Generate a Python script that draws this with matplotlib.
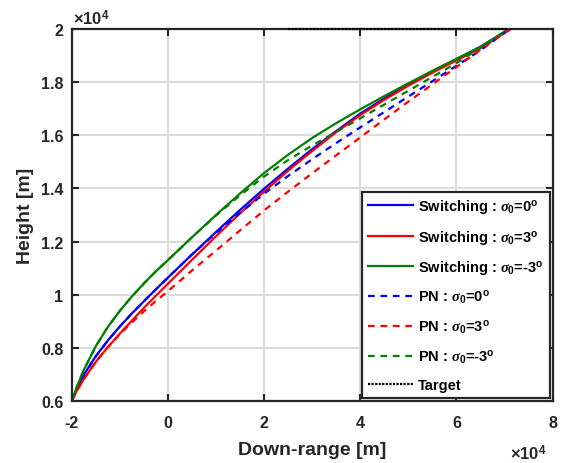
import matplotlib
matplotlib.use("Agg")
import matplotlib.pyplot as plt
from matplotlib.ticker import FuncFormatter

plt.rcParams['font.family'] = ['Liberation Sans', 'DejaVu Sans']
plt.rcParams['font.weight'] = 'bold'
plt.rcParams['mathtext.fontset'] = 'custom'
plt.rcParams['mathtext.rm'] = 'Liberation Sans:bold'
plt.rcParams['mathtext.bf'] = 'Liberation Sans:bold'
plt.rcParams['mathtext.it'] = 'Liberation Serif:italic'

SCALE = 1e4

# trajectories, down-range / height in units of 1e4 m
xs = [-2, -1.9, -1.75, -1.5, -1.25, -1, -0.75, -0.5, -0.25, 0, 0.5, 1, 1.5, 2, 2.5, 3, 3.5,
      4, 4.5, 5, 5.5, 6, 6.5]

sw0_x = xs + [7.1]
sw0_y = [0.6, 0.642, 0.698, 0.768, 0.827, 0.88, 0.929, 0.975, 1.02, 1.064, 1.151, 1.236, 1.319,
         1.399, 1.475, 1.548, 1.616, 1.682, 1.739, 1.792, 1.841, 1.887, 1.934, 2.0]

sw3_x = xs + [7.13]
sw3_y = [0.6, 0.636, 0.682, 0.747, 0.802, 0.853, 0.902, 0.95, 0.996, 1.041, 1.131, 1.22, 1.306,
         1.388, 1.467, 1.541, 1.612, 1.676, 1.734, 1.787, 1.836, 1.882, 1.928, 2.0]

swm3_x = xs + [7.08]
swm3_y = [0.6, 0.65, 0.716, 0.806, 0.878, 0.939, 0.993, 1.042, 1.088, 1.13, 1.216, 1.30, 1.381,
          1.458, 1.527, 1.59, 1.646, 1.698, 1.748, 1.796, 1.843, 1.888, 1.933, 2.0]

pn0_x = xs + [7.1]
pn0_y = [0.6, 0.642, 0.698, 0.768, 0.827, 0.88, 0.929, 0.975, 1.02, 1.064, 1.151, 1.232, 1.308,
         1.38, 1.447, 1.51, 1.571, 1.63, 1.688, 1.746, 1.804, 1.862, 1.92, 2.0]

pn3_x = xs + [7.1]
pn3_y = [0.6, 0.636, 0.682, 0.747, 0.802, 0.851, 0.895, 0.937, 0.976, 1.013, 1.091, 1.166, 1.242,
         1.317, 1.388, 1.457, 1.525, 1.592, 1.66, 1.727, 1.792, 1.857, 1.922, 2.0]

pnm3_x = xs + [7.08]
pnm3_y = [0.6, 0.65, 0.716, 0.806, 0.878, 0.939, 0.993, 1.042, 1.088, 1.13, 1.216, 1.298, 1.374,
          1.445, 1.507, 1.562, 1.613, 1.664, 1.716, 1.768, 1.82, 1.872, 1.93, 2.0]

target_x = [2.5, 7.08]
target_y = [2.0, 2.0]

x_ticks = [-2, 0, 2, 4, 6, 8]
y_ticks = [0.6, 0.8, 1.0, 1.2, 1.4, 1.6, 1.8, 2.0]


def lab(name, ang):
    return name + r' : $\sigma_{\mathrm{0}}$=' + ang + r'$^{\mathrm{o}}$'


def sc(v):
    return [a * SCALE for a in v]


fig = plt.figure(figsize=(5.65, 4.64), dpi=100)
ax = fig.add_axes([0.127, 0.134, 0.851, 0.801])

dash = (0, (3, 2.6))
lw = 1.6
ax.plot(sc(sw0_x), sc(sw0_y), color='#0000ff', lw=lw, label=lab('Switching', '0'))
ax.plot(sc(sw3_x), sc(sw3_y), color='#ff0000', lw=lw, label=lab('Switching', '3'))
ax.plot(sc(swm3_x), sc(swm3_y), color='#008000', lw=lw, label=lab('Switching', '-3'))
ax.plot(sc(pn0_x), sc(pn0_y), color='#0000ff', lw=lw, ls=dash, label=lab('PN', '0'))
ax.plot(sc(pn3_x), sc(pn3_y), color='#ff0000', lw=lw, ls=dash, label=lab('PN', '3'))
ax.plot(sc(pnm3_x), sc(pnm3_y), color='#008000', lw=lw, ls=dash, label=lab('PN', '-3'))
ax.plot(sc(target_x), sc(target_y), color='black', lw=1.6, ls=(0, (1, 0.6)),
        label='Target', clip_on=False, zorder=5)

ax.set_xlim(-2 * SCALE, 8 * SCALE)
ax.set_ylim(0.6 * SCALE, 2 * SCALE)
ax.set_xticks(sc(x_ticks))
ax.set_yticks(sc(y_ticks))
ax.xaxis.set_major_formatter(FuncFormatter(lambda v, p: '%g' % (v / SCALE)))
ax.yaxis.set_major_formatter(FuncFormatter(lambda v, p: '%g' % (v / SCALE)))

ax.grid(True, color='#dcdcdc', lw=1.5)
ax.set_axisbelow(True)
ax.tick_params(direction='in', top=True, right=True, length=5, width=1.5, color='#262626',
               labelsize=11.5, labelcolor='#262626')
ax.tick_params(axis='x', pad=10)
ax.tick_params(axis='y', pad=6)
for s in ax.spines.values():
    s.set_color('#262626')
    s.set_linewidth(1.6)

ax.set_xlabel('Down-range [m]', fontsize=14, fontweight='bold', color='#262626', labelpad=8)
ax.set_ylabel('Height [m]', fontsize=14, fontweight='bold', color='#262626', labelpad=5)

# exponent labels
fig.text(73 / 565, 1 - 25 / 464, r'$\times$10$^{\mathrm{4}}$', fontsize=12, color='#262626')
fig.text(510 / 565, 1 - 460 / 464, r'$\times$10$^{\mathrm{4}}$', fontsize=12, color='#262626')

leg = ax.legend(loc='lower right', fontsize=10.5, handlelength=3.1, handletextpad=0.35,
                labelspacing=0.85, borderaxespad=0.2, fancybox=False, framealpha=1,
                edgecolor='#262626', borderpad=0.4)
leg.get_frame().set_linewidth(1.6)
for t in leg.get_texts():
    t.set_fontweight('bold')

fig.savefig('out.png', dpi=100)
